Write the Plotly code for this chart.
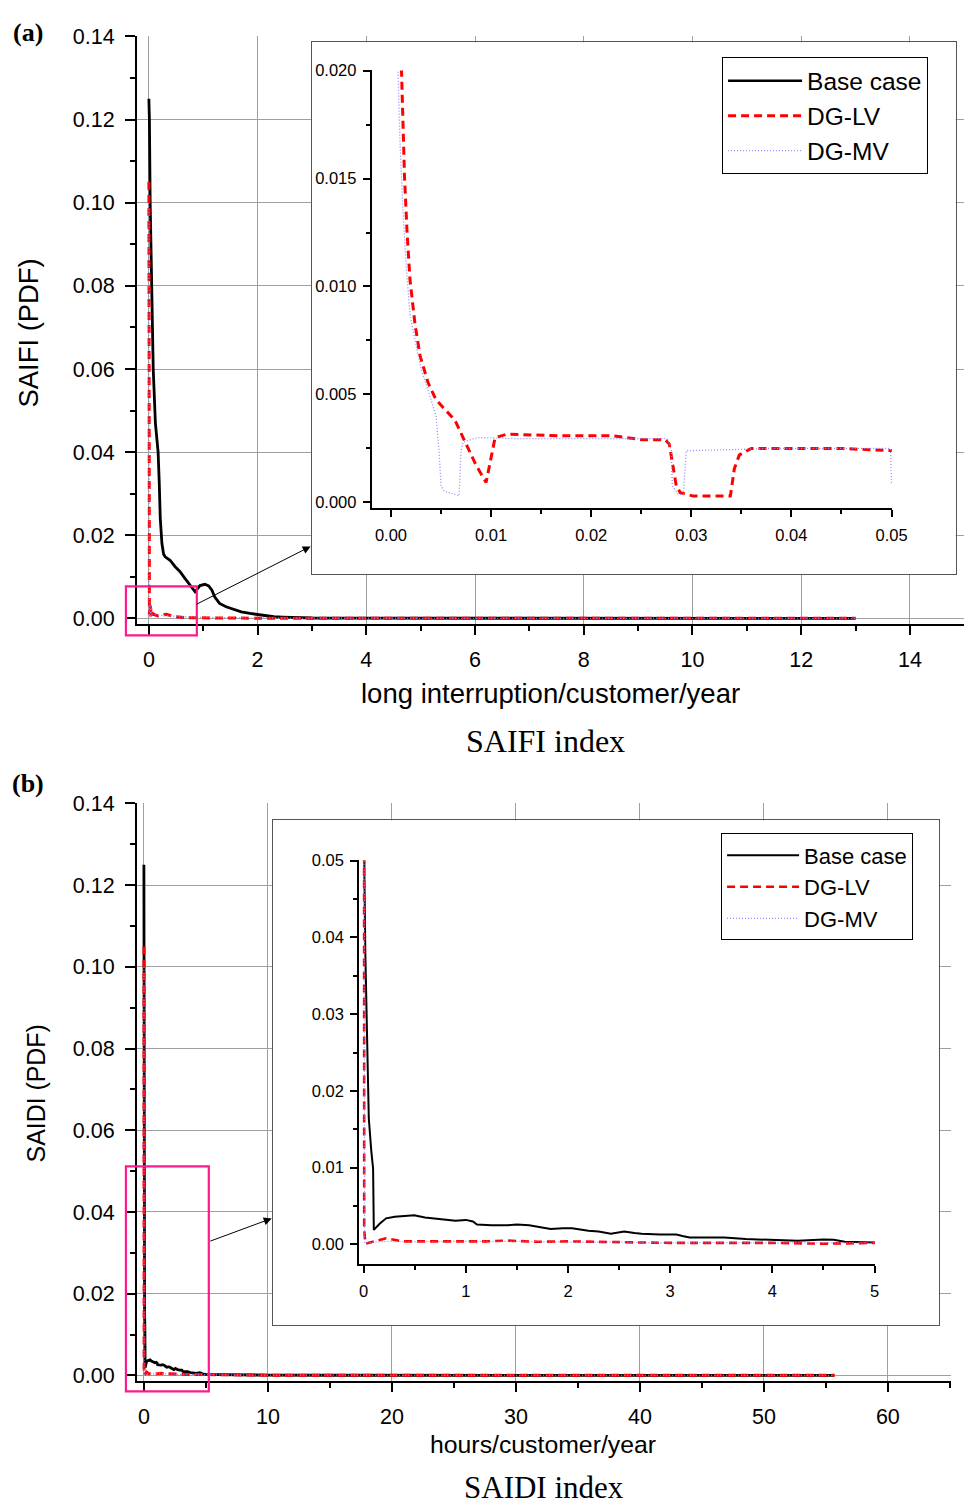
import plotly.graph_objects as go

# ---------------- data: panel (a) SAIFI ----------------
saifi_base_x = [0.0, 0.01, 0.024, 0.05, 0.08, 0.12, 0.17, 0.19, 0.21, 0.24, 0.27, 0.30, 0.39, 0.48, 0.57,
                0.66, 0.75, 0.85, 0.94, 1.03, 1.10, 1.16, 1.21, 1.30, 1.42, 1.55, 1.70, 1.86, 2.00,
                2.16, 2.30, 2.46, 2.70, 3.00, 4.0, 6.0, 8.0, 10.0, 13.0]
saifi_base_y = [0.125, 0.120, 0.100, 0.080, 0.060, 0.047, 0.040, 0.033, 0.024, 0.018, 0.0155, 0.0148, 0.0140,
                0.0125, 0.0113, 0.0097, 0.0080, 0.0064, 0.0079, 0.0082, 0.0078, 0.0068, 0.0052, 0.0036,
                0.0028, 0.0022, 0.0016, 0.0012, 0.0009, 0.0006, 0.0004, 0.0003, 0.0002, 0.0001,
                0.00005, 0.00003, 0.00002, 0.00002, 0.00001]

saifi_lv_x = [0.0008, 0.00105, 0.00135, 0.0016, 0.0019, 0.0024, 0.0029, 0.0037, 0.0045, 0.0055, 0.0064,
              0.0072, 0.0085, 0.0095, 0.0100, 0.0104, 0.0116, 0.0171, 0.0222, 0.0251, 0.0274, 0.0278,
              0.0285, 0.0289, 0.0302, 0.0339, 0.0343, 0.0348, 0.0360, 0.0423, 0.0449, 0.0478, 0.0500,
              0.08, 0.17, 0.32, 0.48, 0.69, 1.0, 1.5, 2.0, 3.0, 5.0, 8.0, 13.0]
saifi_lv_y = [0.105, 0.020, 0.0151, 0.01256, 0.0103, 0.00825, 0.0068, 0.00555, 0.00475, 0.00427, 0.0038,
              0.0030, 0.00172, 0.00092, 0.0020, 0.0030, 0.00316, 0.00308, 0.00308, 0.0029, 0.0029, 0.0027,
              0.00076, 0.00045, 0.00029, 0.00029, 0.00156, 0.0022, 0.0025, 0.00249, 0.0025, 0.00244, 0.0024,
              0.0010, 0.0006, 0.0010, 0.0004, 0.00016, 0.0002, 0.0001, 0.00005, 0.00003, 0.00002, 0.00002,
              0.00001]

saifi_mv_x = [0.0006, 0.0007, 0.0009, 0.0012, 0.0015, 0.0019, 0.0024, 0.0030, 0.0039, 0.0045, 0.0048,
              0.0050, 0.0053, 0.0062, 0.0068, 0.0070, 0.0072, 0.0087, 0.0129, 0.0213, 0.0276, 0.0280,
              0.0281, 0.0287, 0.0292, 0.0295, 0.0300, 0.0339, 0.0381, 0.0444, 0.0499, 0.0500,
              0.08, 0.15, 0.3, 0.5, 0.8, 1.2, 2.0, 3.0, 5.0, 8.0, 13.0]
saifi_mv_y = [0.100, 0.020, 0.0167, 0.0135, 0.0111, 0.0087, 0.0075, 0.0062, 0.0049, 0.0040, 0.0024,
              0.00076, 0.00053, 0.00037, 0.0003, 0.0024, 0.0028, 0.0030, 0.00295, 0.00295, 0.00295, 0.0024,
              0.00076, 0.00037, 0.00037, 0.0024, 0.0024, 0.00244, 0.0025, 0.0025, 0.0025, 0.00092,
              0.0015, 0.0008, 0.0007, 0.0004, 0.0003, 0.0002, 0.0001, 0.00005, 0.00003, 0.00002, 0.00001]

# ---------------- data: panel (b) SAIDI ----------------
saidi_base_x = [0.0, 0.008, 0.017, 0.034, 0.051, 0.076, 0.093, 0.10, 0.157, 0.22, 0.305, 0.40, 0.496, 0.60,
                0.686, 0.80, 0.90, 1.00, 1.07, 1.11, 1.25, 1.41, 1.50, 1.62, 1.75, 1.83, 1.95, 2.04, 2.20,
                2.30, 2.42, 2.55, 2.65, 2.72, 2.90, 3.06, 3.12, 3.19, 3.35, 3.53, 3.74, 3.99, 4.25, 4.50,
                4.60, 4.71, 4.85, 5.0, 6.0, 8.0, 10.0, 15.0, 20.0, 30.0, 40.0, 50.0, 55.7]
saidi_base_y = [0.125, 0.048, 0.038, 0.025, 0.0164, 0.0121, 0.0099, 0.0019, 0.0027, 0.0034, 0.0036, 0.0037,
                0.0038, 0.0035, 0.0034, 0.0033, 0.0031, 0.0032, 0.0030, 0.0026, 0.0025, 0.0025, 0.0026,
                0.0025, 0.0022, 0.0020, 0.0021, 0.0021, 0.0018, 0.0017, 0.0014, 0.0017, 0.0015, 0.0014,
                0.0013, 0.0013, 0.0011, 0.0009, 0.0009, 0.0009, 0.0007, 0.00056, 0.00048, 0.00065, 0.0006,
                0.00035, 0.0003, 0.00026, 0.0002, 0.0001, 0.00006, 0.00004, 0.00003, 0.00002, 0.00002,
                0.00001, 0.00001]

saidi_lv_x = [0.004, 0.005, 0.006, 0.017, 0.22, 0.38, 0.6, 0.9, 1.2, 1.4, 1.7, 2.0, 2.5, 3.0, 3.5, 4.0,
              4.5, 4.8, 5.0, 7.0, 10.0, 20.0, 30.0, 40.0, 55.7]
saidi_lv_y = [0.105, 0.050, 0.002, 0.0001, 0.0008, 0.0004, 0.0004, 0.00035, 0.0004, 0.0005, 0.00035, 0.0004,
              0.0003, 0.0002, 0.0002, 0.0002, 0.0001, 0.0002, 0.0002, 0.0001, 0.00005, 0.00003, 0.00002,
              0.00002, 0.00001]

saidi_mv_x = [0.002, 0.003, 0.01, 0.2, 0.5, 1.0, 1.5, 2.0, 2.5, 3.0, 3.5, 4.0, 4.5, 5.0, 7.0, 10.0, 20.0, 55.7]
saidi_mv_y = [0.100, 0.050, 0.0002, 0.0004, 0.00035, 0.0004, 0.0004, 0.0003, 0.0003, 0.0002, 0.00025,
              0.0002, 0.0002, 0.0002, 0.0001, 0.00005, 0.00002, 0.00001]

series_names = ["Base case", "DG-LV", "DG-MV"]

# ---------------- layout helpers ----------------
# target pixel positions (as in the reference picture) -> figure paper coordinates,
# compensating the observed placement/scale of the rendered page
W, H = 974, 1505
SX, SY, OX, OY = 0.985, 0.9887, 7.9, 20.6
def px(x):
    return ((x - OX) / SX) / W
def py(y):
    return 1 - ((y - OY) / SY) / H

SANS = "Liberation Sans, Arial, sans-serif"
SERIF = "Liberation Serif, Times New Roman, serif"
BLACK = "#000000"
RED = "#ff0000"
BLUE = "#8a8aff"
PINK = "#ff1a8c"

fig = go.Figure()

def add_series(xa, ya, data, legend=None, widths=(2.8, 3.0, 1.3)):
    styles = [
        dict(color=BLACK, width=widths[0], dash="solid"),
        dict(color=RED, width=widths[1], dash="8px,5px"),
        dict(color=BLUE, width=widths[2], dash="1px,2px"),
    ]
    for (x, y), name, st in zip(data, series_names, styles):
        fig.add_trace(go.Scatter(
            x=x, y=y, mode="lines", name=name, line=st,
            xaxis=xa, yaxis=ya,
            showlegend=legend is not None, legend=legend if legend else "legend",
            hoverinfo="skip"))

saifi_data = [(saifi_base_x, saifi_base_y), (saifi_lv_x, saifi_lv_y), (saifi_mv_x, saifi_mv_y)]
saidi_data = [(saidi_base_x, saidi_base_y), (saidi_lv_x, saidi_lv_y), (saidi_mv_x, saidi_mv_y)]

add_series("x", "y", saifi_data)
fig.add_trace(go.Scatter(x=[None], y=[None], xaxis="x2", yaxis="y2", showlegend=False, hoverinfo="skip"))
add_series("x3", "y3", saifi_data, legend="legend", widths=(2.5, 3.0, 1.3))
add_series("x4", "y4", saidi_data)
fig.add_trace(go.Scatter(x=[None], y=[None], xaxis="x5", yaxis="y5", showlegend=False, hoverinfo="skip"))
add_series("x6", "y6", saidi_data, legend="legend2", widths=(2.0, 2.6, 1.3))

def main_axes(xdom, ydom, xrange, yrange, xdtick, xminor, ydtick, yminor, yfmt, xanchor, yanchor):
    xa = dict(domain=xdom, range=xrange, anchor=xanchor, showline=True, linecolor=BLACK, linewidth=2,
              ticks="outside", ticklen=9, tickwidth=2, tickcolor=BLACK, dtick=xdtick, tick0=0,
              showgrid=True, gridcolor="#a0a0a0", gridwidth=1, zeroline=False,
              tickfont=dict(family=SANS, size=21.5, color=BLACK), ticklabelstandoff=6,
              minor=dict(dtick=xminor, ticks="outside", ticklen=5, tickwidth=2, tickcolor=BLACK, showgrid=False),
              fixedrange=True)
    ya = dict(domain=ydom, range=yrange, anchor=yanchor, showline=True, linecolor=BLACK, linewidth=2,
              ticks="outside", ticklen=10, tickwidth=2, tickcolor=BLACK, dtick=ydtick, tick0=0,
              tickformat=yfmt, showgrid=True, gridcolor="#a0a0a0", gridwidth=1, zeroline=False,
              tickfont=dict(family=SANS, size=21.5, color=BLACK), ticklabelstandoff=6,
              minor=dict(dtick=yminor, ticks="outside", ticklen=5, tickwidth=2, tickcolor=BLACK, showgrid=False),
              fixedrange=True)
    return xa, ya

def box_axes(xdom, ydom, xanchor, yanchor):
    common = dict(range=[0, 1], showline=True, mirror=True, linecolor="#555555", linewidth=1.2,
                  ticks="", showticklabels=False, showgrid=False, zeroline=False, fixedrange=True)
    return dict(domain=xdom, anchor=xanchor, **common), dict(domain=ydom, anchor=yanchor, **common)

def inset_axes(xdom, ydom, xrange, yrange, xdtick, xminor, xfmt, ydtick, yminor, yfmt, xanchor, yanchor, fs):
    xa = dict(domain=xdom, range=xrange, anchor=xanchor, showline=True, linecolor=BLACK, linewidth=1.6,
              ticks="outside", ticklen=7, tickwidth=1.5, tickcolor=BLACK, dtick=xdtick, tick0=0,
              tickformat=xfmt, showgrid=False, zeroline=False,
              tickfont=dict(family=SANS, size=fs, color=BLACK), ticklabelstandoff=4,
              minor=dict(dtick=xminor, ticks="outside", ticklen=4, tickwidth=1.5, tickcolor=BLACK, showgrid=False),
              fixedrange=True)
    ya = dict(domain=ydom, range=yrange, anchor=yanchor, showline=True, linecolor=BLACK, linewidth=1.6,
              ticks="outside", ticklen=7, tickwidth=1.5, tickcolor=BLACK, dtick=ydtick, tick0=0,
              tickformat=yfmt, showgrid=False, zeroline=False,
              tickfont=dict(family=SANS, size=fs, color=BLACK), ticklabelstandoff=3,
              minor=dict(dtick=yminor, ticks="outside", ticklen=4, tickwidth=1.5, tickcolor=BLACK, showgrid=False),
              fixedrange=True)
    return xa, ya

xa1, ya1 = main_axes([px(137), px(965)], [py(626), py(38)], [-0.22, 14.99], [-0.00144, 0.14001],
                     2, 1, 0.02, 0.01, ".2f", "y", "x")
xa2, ya2 = box_axes([px(312), px(957)], [py(576), py(44)], "y2", "x2")
xa3, ya3 = inset_axes([px(372), px(893)], [py(510), py(72)], [-0.00194, 0.05003], [-0.00028, 0.02001],
                      0.01, 0.005, ".2f", 0.005, 0.0025, ".3f", "y3", "x3", 16.5)
xa4, ya4 = main_axes([px(137), px(952)], [py(1383), py(805)], [-0.564, 65.07], [-0.00147, 0.14001],
                     10, 5, 0.02, 0.01, ".2f", "y4", "x4")
xa5, ya5 = box_axes([px(273), px(940)], [py(1327), py(822)], "y5", "x5")
xa6, ya6 = inset_axes([px(359.5), px(876)], [py(1266), py(862)], [-0.044, 5.003], [-0.0026, 0.05003],
                      1, 0.5, "d", 0.01, 0.005, ".2f", "y6", "x6", 16.5)

shapes = [
    dict(type="rect", xref="paper", yref="paper", x0=px(126), x1=px(197), y0=py(637), y1=py(588),
         line=dict(color=PINK, width=2.2), fillcolor="rgba(0,0,0,0)", layer="above"),
    dict(type="rect", xref="paper", yref="paper", x0=px(126), x1=px(209), y0=py(1393), y1=py(1168),
         line=dict(color=PINK, width=2.2), fillcolor="rgba(0,0,0,0)", layer="above"),
]

def txt(x, y, text, size, family=SANS, angle=0):
    return dict(x=px(x), y=py(y), xref="paper", yref="paper", text=text, showarrow=False,
                xanchor="center", yanchor="middle", textangle=angle,
                font=dict(family=family, size=size, color=BLACK))

def arrow(hx, hy, tx, ty):
    return dict(x=px(hx), y=py(hy), xref="paper", yref="paper", text="", showarrow=True,
                ax=(tx - hx) / SX, ay=(ty - hy) / SY, axref="pixel", ayref="pixel",
                arrowhead=2, arrowsize=1.6, arrowwidth=1, arrowcolor=BLACK)

annotations = [
    txt(28, 34, "<b>(a)</b>", 26, SERIF),
    txt(28, 335, "SAIFI (PDF)", 27.4, SANS, -90),
    txt(551, 695, "long interruption/customer/year", 27.5),
    txt(546, 743, "SAIFI index", 32, SERIF),
    txt(28, 785, "<b>(b)</b>", 26, SERIF),
    txt(36, 1095, "SAIDI (PDF)", 24.9, SANS, -90),
    txt(544, 1446, "hours/customer/year", 24.8),
    txt(545, 1489, "SAIDI index", 31, SERIF),
    arrow(311, 548, 197, 606),
    arrow(272, 1220, 210, 1243),
]

fig.update_layout(
    width=W, height=H, margin=dict(l=0, r=0, t=0, b=0),
    paper_bgcolor="white", plot_bgcolor="white",
    xaxis=xa1, yaxis=ya1, xaxis2=xa2, yaxis2=ya2, xaxis3=xa3, yaxis3=ya3,
    xaxis4=xa4, yaxis4=ya4, xaxis5=xa5, yaxis5=ya5, xaxis6=xa6, yaxis6=ya6,
    shapes=shapes, annotations=annotations,
    legend=dict(x=px(723), y=py(59), xanchor="left", yanchor="top", bgcolor="white",
                bordercolor=BLACK, borderwidth=1, itemwidth=74,
                font=dict(family=SANS, size=24.5, color=BLACK), tracegroupgap=0),
    legend2=dict(x=px(722), y=py(835), xanchor="left", yanchor="top", bgcolor="white",
                 bordercolor=BLACK, borderwidth=1, itemwidth=72,
                 font=dict(family=SANS, size=22, color=BLACK), tracegroupgap=0),
    showlegend=True,
)

fig.write_html("out.html")
